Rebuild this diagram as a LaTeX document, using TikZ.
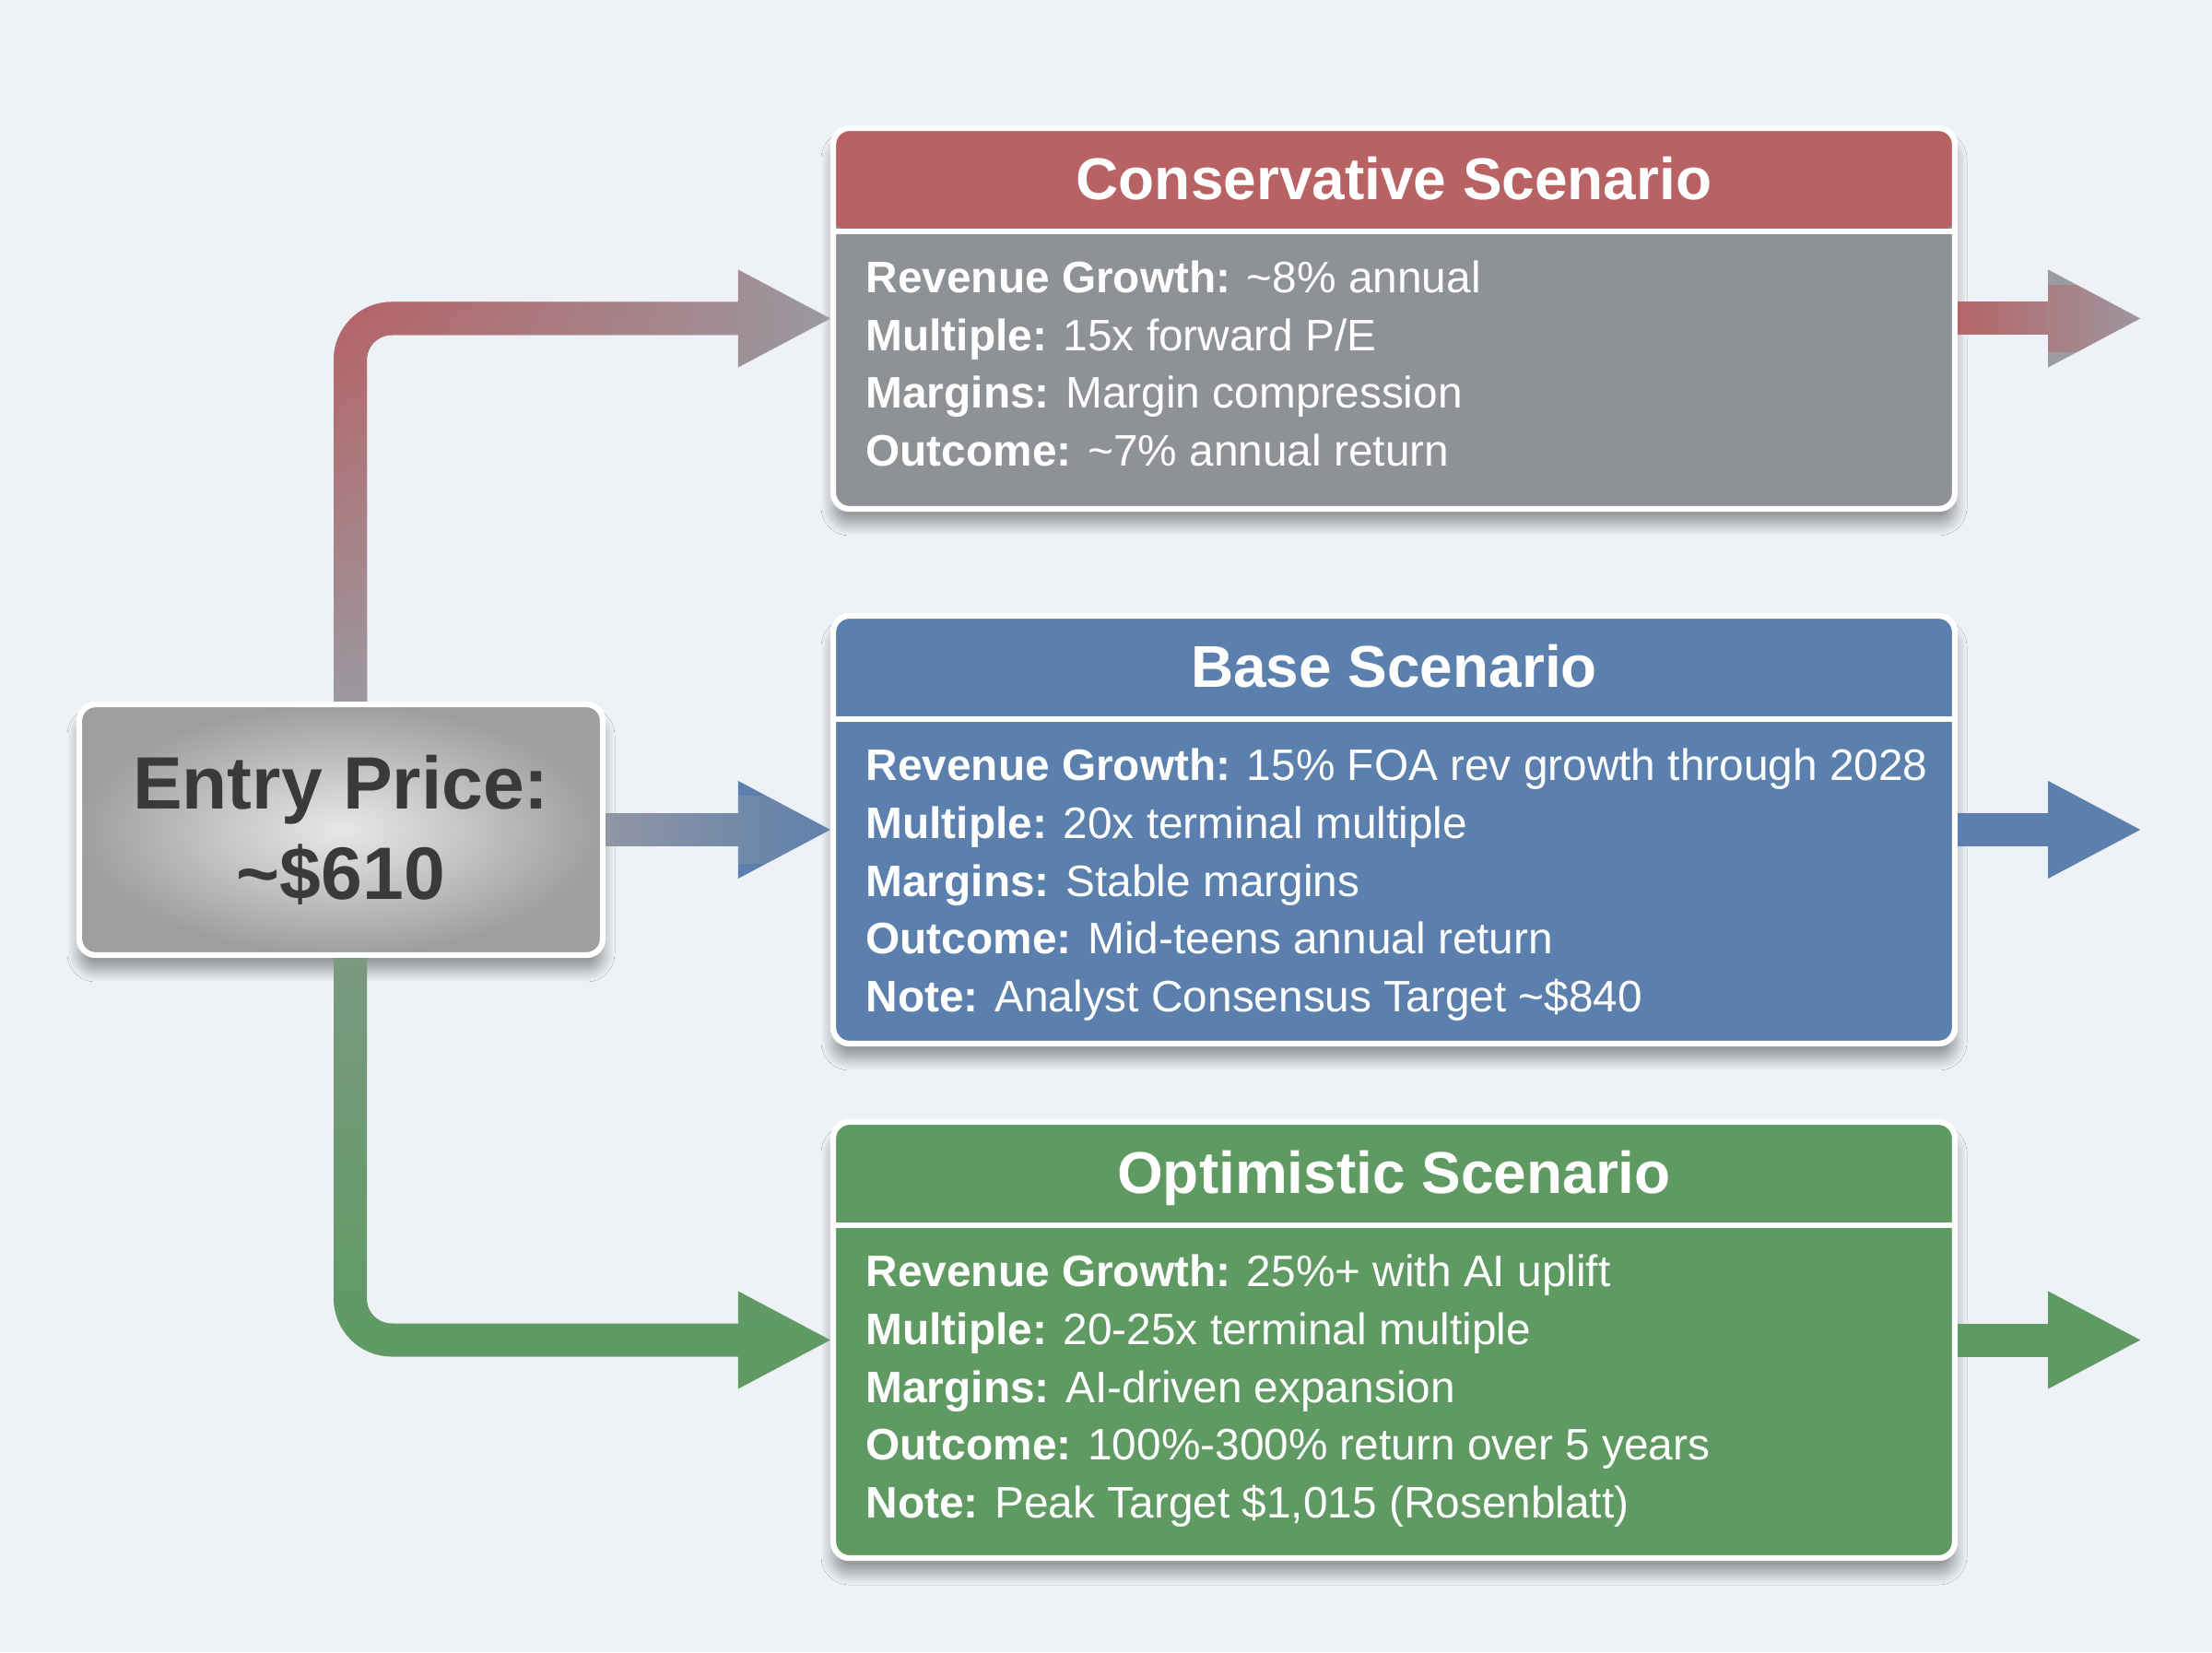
\documentclass[tikz,border=0pt]{standalone}
\usepackage{fontspec}
\setmainfont{Liberation Sans}
\usetikzlibrary{arrows.meta,calc,fadings,shadows.blur}

\definecolor{pagebg}{HTML}{EEF2F7}
\definecolor{consred}{HTML}{B86264}
\definecolor{consgray}{HTML}{8E9196}
\definecolor{baseblue}{HTML}{5B80AD}
\definecolor{optgreen}{HTML}{5E9A62}
\definecolor{linkgray}{HTML}{9B9BA3}
\definecolor{entryink}{HTML}{3A3A3A}

\tikzfading[name=faderight, left color=transparent!0, right color=transparent!100]
\tikzfading[name=fadeup, bottom color=transparent!0, top color=transparent!100]
\tikzfading[name=fadedown, top color=transparent!0, bottom color=transparent!100]

\tikzset{
  boxshadow/.style={blur shadow={shadow xshift=0cm, shadow yshift=-0.16cm,
    shadow blur radius=0.13cm, shadow blur steps=16, shadow opacity=40}},
  scenario/.style={draw=white, line width=1.8pt, rounded corners=5pt,
    minimum width=12.17cm, inner sep=0pt, boxshadow,
    path picture={
      \fill[#1] (path picture bounding box.north west) rectangle
        ([yshift=-1.12cm]path picture bounding box.north east);
      \draw[white, line width=1.5pt] ([yshift=-1.12cm]path picture bounding box.north west)
        -- ([yshift=-1.12cm]path picture bounding box.north east);
    }},
  titletext/.style={text=white, anchor=base, font=\fontsize{18.2}{22}\selectfont\bfseries},
  bodytext/.style={text=white, anchor=north west, align=left, inner sep=0pt,
    font=\fontsize{13.6}{17.9}\selectfont},
  entrybox/.style={draw=white, line width=1.8pt, rounded corners=5pt,
    inner color=black!9, outer color=black!38, minimum width=5.68cm,
    minimum height=2.72cm, align=center, text=entryink,
    font=\fontsize{22.9}{27.8}\selectfont\bfseries, boxshadow},
  link/.style={line width=0.36cm, rounded corners=0.45cm,
    -{Triangle[length=1cm, width=1.06cm, line width=0pt]}},
}

\begin{document}
\begin{tikzpicture}
% Page background
\fill[pagebg] (0,0) rectangle (24,17.92);
\useasboundingbox (0,0) rectangle (24,17.92);

% Entry price box
\node[entrybox] (entry) at (3.70,8.92) {Entry Price:\\\textasciitilde\$610};

% Scenario boxes
\node[scenario=consred, fill=consgray, minimum height=4.13cm] (cons) at (15.125,14.465) {};
\node[scenario=baseblue, fill=baseblue, minimum height=4.64cm] (base) at (15.125,8.92) {};
\node[scenario=optgreen, fill=optgreen, minimum height=4.73cm] (opt) at (15.125,3.385) {};

% Scenario titles
\node[titletext] (constitle) at ([yshift=-0.81cm]cons.north) {Conservative Scenario};
\node[titletext] (basetitle) at ([yshift=-0.81cm]base.north) {Base Scenario};
\node[titletext] (opttitle) at ([yshift=-0.81cm]opt.north) {Optimistic Scenario};

% Scenario details
\node[bodytext] (consbody) at ([xshift=0.38cm,yshift=-1.46cm]cons.north west) {\textbf{Revenue Growth:} \textasciitilde8\% annual\\
\textbf{Multiple:} 15x forward P/E\\
\textbf{Margins:} Margin compression\\
\textbf{Outcome:} \textasciitilde7\% annual return};
\node[bodytext] (basebody) at ([xshift=0.38cm,yshift=-1.46cm]base.north west) {\textbf{Revenue Growth:} 15\% FOA rev growth through 2028\\
\textbf{Multiple:} 20x terminal multiple\\
\textbf{Margins:} Stable margins\\
\textbf{Outcome:} Mid-teens annual return\\
\textbf{Note:} Analyst Consensus Target \textasciitilde\$840};
\node[bodytext] (optbody) at ([xshift=0.38cm,yshift=-1.46cm]opt.north west) {\textbf{Revenue Growth:} 25\%+ with AI uplift\\
\textbf{Multiple:} 20-25x terminal multiple\\
\textbf{Margins:} AI-driven expansion\\
\textbf{Outcome:} 100\%-300\% return over 5 years\\
\textbf{Note:} Peak Target \$1,015 (Rosenblatt)};

% Links from the entry price
\draw[link, linkgray] ($(entry.north)+(0.1,0)$) |- (cons.west);
\draw[link, consred, path fading=faderight] ($(entry.north)+(0.1,0)$) |- (cons.west);
\draw[link, linkgray, path fading=fadeup] ($(entry.north)+(0.1,0)$) |- (cons.west);

\draw[link, baseblue] (entry.east) -- (base.west);
\draw[link, linkgray, path fading=faderight, opacity=0.9] (entry.east) -- (base.west);

\draw[link, optgreen] ($(entry.south)+(0.1,0)$) |- (opt.west);
\draw[link, linkgray, path fading=fadedown, opacity=0.5] ($(entry.south)+(0.1,0)$) |- (opt.west);

% Outgoing arrows
\coordinate (consout) at ($(cons.east)+(1.98,0)$);
\coordinate (baseout) at ($(base.east)+(1.98,0)$);
\coordinate (optout) at ($(opt.east)+(1.98,0)$);
\draw[link, linkgray] (cons.east) -- (consout);
\draw[link, consred, path fading=faderight] (cons.east) -- (consout);
\draw[link, baseblue] (base.east) -- (baseout);
\draw[link, optgreen] (opt.east) -- (optout);
\end{tikzpicture}
\end{document}
